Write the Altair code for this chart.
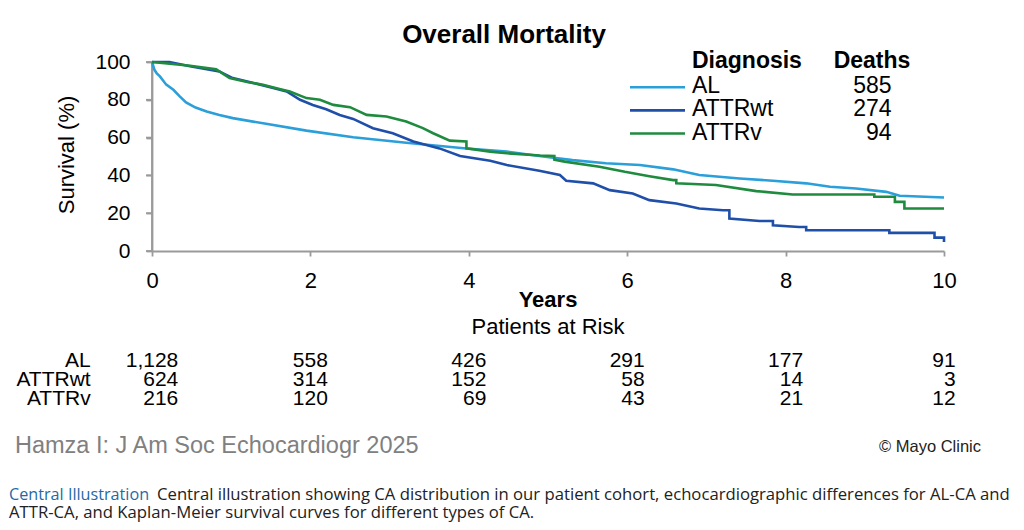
import altair as alt
import pandas as pd

# ---------------- data ----------------
series = ["AL", "ATTRwt", "ATTRv"]
colors = ["#2b9fd9", "#1f4fa9", "#1f8b3f"]
deaths = ["585", "274", "94"]

# survival curves (years, % surviving); repeated years mark a visible step
al_t = [0, 0.03, 0.06, 0.10, 0.18, 0.27, 0.35, 0.43, 0.55, 0.69, 0.85, 1.02, 1.44, 1.95, 2.54,
        3.21, 3.97, 4.48, 4.89, 5.31, 5.73, 6.16, 6.58, 6.91, 7.42, 7.84, 8.26, 8.56, 8.89,
        9.27, 9.44, 10.0]
al_s = [100, 95.9, 94.0, 92.4, 88.0, 85.3, 81.8, 78.6, 75.9, 73.8, 71.9, 70.3, 67.3, 63.7, 60.2,
        57.3, 54.2, 52.6, 50.3, 48.1, 46.4, 45.5, 43.2, 40.2, 38.4, 37.2, 35.8, 34.0, 33.1,
        31.3, 29.2, 28.3]

wt_t = [0, 0.22, 0.48, 0.85, 1.02, 1.23, 1.53, 1.70, 1.87, 2.03, 2.20, 2.37, 2.54, 2.79, 3.04,
        3.30, 3.63, 3.89, 4.27, 4.48, 4.89, 5.15, 5.23, 5.57, 5.78, 6.07, 6.28, 6.62, 6.91,
        7.21, 7.29, 7.29, 7.67, 7.84, 7.84, 8.17, 8.26, 8.26, 9.31, 9.31, 9.88, 9.88, 10.0, 10.0]
wt_s = [100, 100, 97.7, 95.0, 91.5, 89.4, 86.2, 84.4, 80.0, 77.3, 75.0, 72.0, 69.9, 65.0, 62.3,
        57.9, 54.3, 50.3, 47.8, 45.5, 42.5, 40.2, 37.2, 35.8, 32.2, 30.4, 26.9, 25.1, 22.5,
        21.6, 21.6, 17.2, 15.9, 15.9, 13.6, 12.7, 12.7, 11.0, 11.0, 9.6, 9.6, 7.1, 7.1, 4.8]

v_t = [0, 0.48, 0.81, 0.98, 1.23, 1.40, 1.61, 1.74, 1.95, 2.12, 2.29, 2.50, 2.71, 2.96, 3.21,
       3.42, 3.55, 3.76, 3.97, 3.97, 4.27, 4.48, 4.90, 5.08, 5.08, 5.21, 5.65, 5.97, 6.28, 6.58,
       6.62, 6.62, 7.12, 7.63, 8.09, 9.12, 9.12, 9.38, 9.38, 9.50, 9.50, 10.0]
v_s = [100, 98.0, 96.1, 91.5, 89.2, 88.0, 85.7, 84.4, 80.9, 80.0, 77.3, 76.1, 72.0, 71.2, 68.5,
       65.0, 62.3, 58.4, 57.9, 54.3, 52.6, 51.7, 50.5, 50.3, 48.3, 47.3, 44.6, 41.9, 39.6, 37.5,
       37.5, 35.8, 34.9, 31.7, 29.9, 29.9, 28.7, 28.7, 26.0, 26.0, 22.5, 22.5]

y_ticks = [0, 20, 40, 60, 80, 100]
risk_years = [0, 2, 4, 6, 8, 10]
risk_al = ["1,128", "558", "426", "291", "177", "91"]
risk_wt = ["624", "314", "152", "58", "14", "3"]
risk_v = ["216", "120", "69", "43", "21", "12"]

# ---------------- layout helpers ----------------
FONT = "Liberation Sans"
CAPFONT = "Open Sans"
OX, OY = 152, 62          # plot origin on the page
W, H = 792, 189
AXIS_GRAY = "#9a9a9a"
AXIS_W = 1.8


def px(x):
    return x - OX


def py(y):
    return y - OY


def txt(label, x, y, size, weight="normal", align="left", color="#000000",
        baseline="alphabetic", angle=0, font=FONT):
    kw = dict(font=font, fontSize=size, fontWeight=weight, align=align,
              baseline=baseline, color=color)
    if angle:
        kw["angle"] = angle
    return alt.Chart(pd.DataFrame({"label": [label]})).mark_text(**kw).encode(
        x=alt.value(x), y=alt.value(y), text="label:N")


frames = []
for name, t, s in [("AL", al_t, al_s), ("ATTRwt", wt_t, wt_s), ("ATTRv", v_t, v_s)]:
    frames.append(pd.DataFrame({"t": t, "s": s, "series": name, "i": range(len(t))}))
curves = pd.concat(frames, ignore_index=True)

x_axis = alt.Axis(values=risk_years, title=None)
y_axis = alt.Axis(values=y_ticks, title=None)
xscale = alt.Scale(domain=[0, 10], nice=False, zero=False)
yscale = alt.Scale(domain=[0, 100], nice=False)

# vertical axis line and its ticks, drawn through the scales
yline = alt.Chart(pd.DataFrame({"t": [0], "s": [0], "s2": [100]})).mark_rule(
    color=AXIS_GRAY, strokeWidth=AXIS_W).encode(
    x=alt.X("t:Q", scale=xscale, axis=x_axis),
    y=alt.Y("s:Q", scale=yscale, axis=y_axis), y2="s2:Q")
yticks = alt.Chart(pd.DataFrame({"t": [0] * len(y_ticks), "s": y_ticks})).mark_rule(
    color=AXIS_GRAY, strokeWidth=AXIS_W).encode(
    x=alt.X("t:Q", scale=xscale, axis=x_axis), x2=alt.value(-6),
    y=alt.Y("s:Q", scale=yscale, axis=y_axis))

lines = alt.Chart(curves).mark_line(strokeWidth=2.6, interpolate="linear").encode(
    x=alt.X("t:Q", scale=xscale, axis=x_axis),
    y=alt.Y("s:Q", scale=yscale, axis=y_axis),
    color=alt.Color("series:N", scale=alt.Scale(domain=series, range=colors), legend=None),
    order=alt.Order("i:Q"),
)

layers = [yline, yticks, lines]

# title and axis titles
layers.append(txt("Overall Mortality", px(504), py(43), 26, "bold", "center"))
layers.append(txt("Survival (%)", px(67), py(155), 22, align="center", baseline="middle", angle=270))
layers.append(txt("Years", px(548), py(307), 22, "bold", "center"))
layers.append(txt("Patients at Risk", px(548), py(334), 22, align="center"))

# custom legend
layers.append(txt("Diagnosis", px(692), py(68), 23, "bold"))
layers.append(txt("Deaths", px(872), py(68), 23, "bold", "center"))
for i, (name, col, d) in enumerate(zip(series, colors, deaths)):
    base_y = 93.3 + 23.1 * i
    layers.append(alt.Chart(pd.DataFrame({"series": [name]})).mark_rule(
        color=col, strokeWidth=2.6).encode(
        x=alt.value(px(630)), x2=alt.value(px(685)), y=alt.value(py(base_y - 6))))
    layers.append(txt(name, px(692), py(base_y), 23))
    layers.append(txt(d, px(891.5), py(base_y), 23, align="right"))

# risk table
RFS = 21
rows = [risk_al, risk_wt, risk_v]
DIGIT, COMMA = 0.556 * RFS, 0.278 * RFS
for ci, yr in enumerate(risk_years):
    widest = max((sum(COMMA if ch == "," else DIGIT for ch in r[ci]) for r in rows))
    for ri, r in enumerate(rows):
        base_y = 366.7 + 19.2 * ri
        layers.append(alt.Chart(pd.DataFrame({"t": [yr], "label": [r[ci]]})).mark_text(
            font=FONT, fontSize=RFS, align="right", baseline="alphabetic", dx=widest / 2,
            color="#000").encode(
            x=alt.X("t:Q", scale=xscale, axis=x_axis), y=alt.value(py(base_y)),
            text="label:N"))
for ri, name in enumerate(series):
    layers.append(txt(name, px(90.7), py(366.7 + 19.2 * ri), RFS, align="right"))

# footer
layers.append(txt("Hamza I: J Am Soc Echocardiogr 2025", px(15), py(453), 23.5, color="#808080"))
layers.append(txt("\u00a9 Mayo Clinic", px(879), py(452), 16.5, color="#222222"))
layers.append(txt("Central Illustration", px(9), py(500), 16.2, color="#1f6aa5", font=CAPFONT))
layers.append(txt("Central illustration showing CA distribution in our patient cohort, "
                  "echocardiographic differences for AL-CA and", px(157), py(500), 16.7,
                  color="#222222", font=CAPFONT))
layers.append(txt("ATTR-CA, and Kaplan-Meier survival curves for different types of CA.",
                  px(9), py(518), 16.7, color="#222222", font=CAPFONT))

chart = alt.layer(*layers).properties(
    width=W, height=H,
    autosize=alt.AutoSizeParams(type="none"),
    padding={"left": 144, "top": 54, "right": 72, "bottom": 271},
    background="#ffffff",
).configure_view(stroke=None).configure_axis(
    grid=False, labelFont=FONT, labelColor="#000000", tickColor=AXIS_GRAY,
    domainColor=AXIS_GRAY, tickWidth=AXIS_W, domainWidth=AXIS_W, domain=True, ticks=True,
).configure_axisX(
    labelFontSize=22, tickSize=5, labelPadding=14, labelFlush=False,
).configure_axisY(
    labelFontSize=21, tickSize=6, labelPadding=16,
)

chart.save("out.html", embed_options={"renderer": "svg", "actions": False})
